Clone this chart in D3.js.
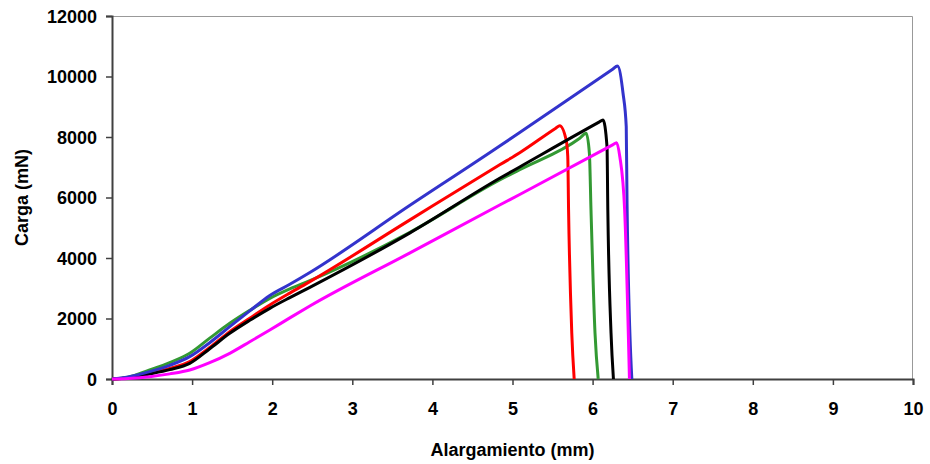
<!DOCTYPE html>
<html>
<head>
<meta charset="utf-8">
<script src="https://cdn.jsdelivr.net/npm/d3@7"></script>
<style>
  html, body { margin: 0; padding: 0; background: #fff; }
  svg text { font-family: "Liberation Sans", Arial, sans-serif; font-weight: bold; fill: #000; }
</style>
</head>
<body>
<div id="chart"></div>
<script>
(function(){
// ensayos de tracción: [alargamiento (mm), carga (mN)]
const probetaAzul = [
  [0, 0], [0.2, 70], [0.47, 242], [0.72, 450], [0.97, 738], [1.22, 1200], [1.47, 1730],
  [1.72, 2250], [1.97, 2760], [2.22, 3130], [2.47, 3520], [3.72, 5740], [4.84, 7700],
  [5.09, 8150], [6.25, 10240], [6.31, 10348], [6.38, 9445], [6.42, 8341], [6.43, 5800], [6.49, 0]
];
const probetaRoja = [
  [0, 0], [0.2, 40], [0.47, 187], [0.72, 350], [0.97, 573], [1.22, 1040], [1.47, 1565],
  [1.72, 2010], [1.97, 2446], [2.22, 2840], [2.47, 3218], [3.72, 5260], [4.84, 7080],
  [5.09, 7480], [5.54, 8290], [5.59, 8375], [5.67, 7900], [5.69, 7350], [5.70, 5587],
  [5.74, 1521], [5.77, 0]
];
const probetaVerde = [
  [0, 0], [0.2, 60], [0.47, 298], [0.72, 540], [0.97, 849], [1.22, 1350], [1.47, 1841],
  [1.72, 2270], [1.97, 2667], [2.22, 2980], [2.47, 3250], [3.72, 4850], [4.84, 6580],
  [5.09, 6920], [5.84, 7960], [5.92, 8122], [5.96, 7462], [5.98, 5587], [6.03, 1521], [6.07, 0]
];
const probetaNegra = [
  [0, 0], [0.2, 30], [0.47, 165], [0.72, 310], [0.97, 518], [1.22, 1000], [1.47, 1510],
  [1.72, 1940], [1.97, 2336], [2.22, 2690], [2.47, 3031], [3.72, 4830], [4.84, 6635],
  [5.09, 7010], [6.08, 8490], [6.13, 8563], [6.18, 7680], [6.19, 5587], [6.23, 1521], [6.26, 0]
];
const probetaMagenta = [
  [0, 0], [0.2, 20], [0.47, 77], [0.72, 170], [0.97, 298], [1.22, 540], [1.47, 849],
  [1.72, 1230], [1.97, 1620], [2.22, 2020], [2.47, 2413], [3.72, 4170], [4.84, 5752],
  [5.09, 6100], [6.25, 7740], [6.30, 7812], [6.34, 7349], [6.40, 5587], [6.46, 0]
];

const series = [
  { datos: probetaVerde, color: "#339933" },
  { datos: probetaRoja, color: "#ff0000" },
  { datos: probetaNegra, color: "#000000" },
  { datos: probetaAzul, color: "#3333cc" },
  { datos: probetaMagenta, color: "#ff00ff" }
];

const xTicks = [0, 1, 2, 3, 4, 5, 6, 7, 8, 9, 10];
const yTicks = [0, 2000, 4000, 6000, 8000, 10000, 12000];

// dimensiones
const W = 930, H = 464;
const margin = { top: 16, right: 17, bottom: 85, left: 112 };
const width = W - margin.left - margin.right;
const height = H - margin.top - margin.bottom;

const svg = d3.select("#chart").append("svg")
  .attr("width", W)
  .attr("height", H);

const g = svg.append("g")
  .attr("transform", `translate(${margin.left},${margin.top})`);

const x = d3.scaleLinear().domain([0, 10]).range([0, width]);
const y = d3.scaleLinear().domain([0, 12000]).range([height, 0]);

// borde superior y derecho del área de trazado
g.append("path")
  .attr("d", `M0,0.5H${width - 0.5}V${height}`)
  .attr("fill", "none")
  .attr("stroke", "#999")
  .attr("stroke-width", 1);

// eje Y
const yAxis = g.append("g")
  .call(d3.axisLeft(y).tickValues(yTicks).tickSize(6).tickPadding(9).tickFormat(d3.format("d")));
yAxis.select(".domain").attr("stroke", "#404040").attr("stroke-width", 2);
yAxis.selectAll(".tick line").attr("stroke", "#404040").attr("stroke-width", 1.5);
yAxis.selectAll("text").style("font-size", "18px").attr("dy", "0.36em");

// eje X
const xAxis = g.append("g")
  .attr("transform", `translate(0,${height})`)
  .call(d3.axisBottom(x).tickValues(xTicks).tickSize(6).tickPadding(17).tickFormat(d3.format("d")));
xAxis.select(".domain").attr("stroke", "#404040").attr("stroke-width", 2);
xAxis.selectAll(".tick line").attr("stroke", "#404040").attr("stroke-width", 1.5);
xAxis.selectAll("text").style("font-size", "18px");

// curvas carga-alargamiento
const line = d3.line()
  .x(d => x(d[0]))
  .y(d => y(d[1]))
  .curve(d3.curveMonotoneX);

g.selectAll(".curva")
  .data(series)
  .enter()
  .append("path")
  .attr("class", "curva")
  .attr("d", d => line(d.datos))
  .attr("fill", "none")
  .attr("stroke", d => d.color)
  .attr("stroke-width", 3)
  .attr("stroke-linejoin", "round");

// títulos de los ejes
svg.append("text")
  .attr("x", margin.left + width / 2)
  .attr("y", 456)
  .attr("text-anchor", "middle")
  .style("font-size", "18px")
  .text("Alargamiento (mm)");

svg.append("text")
  .attr("transform", `translate(28,${margin.top + height / 2}) rotate(-90)`)
  .attr("text-anchor", "middle")
  .style("font-size", "18px")
  .text("Carga (mN)");
})();
</script>
</body>
</html>
